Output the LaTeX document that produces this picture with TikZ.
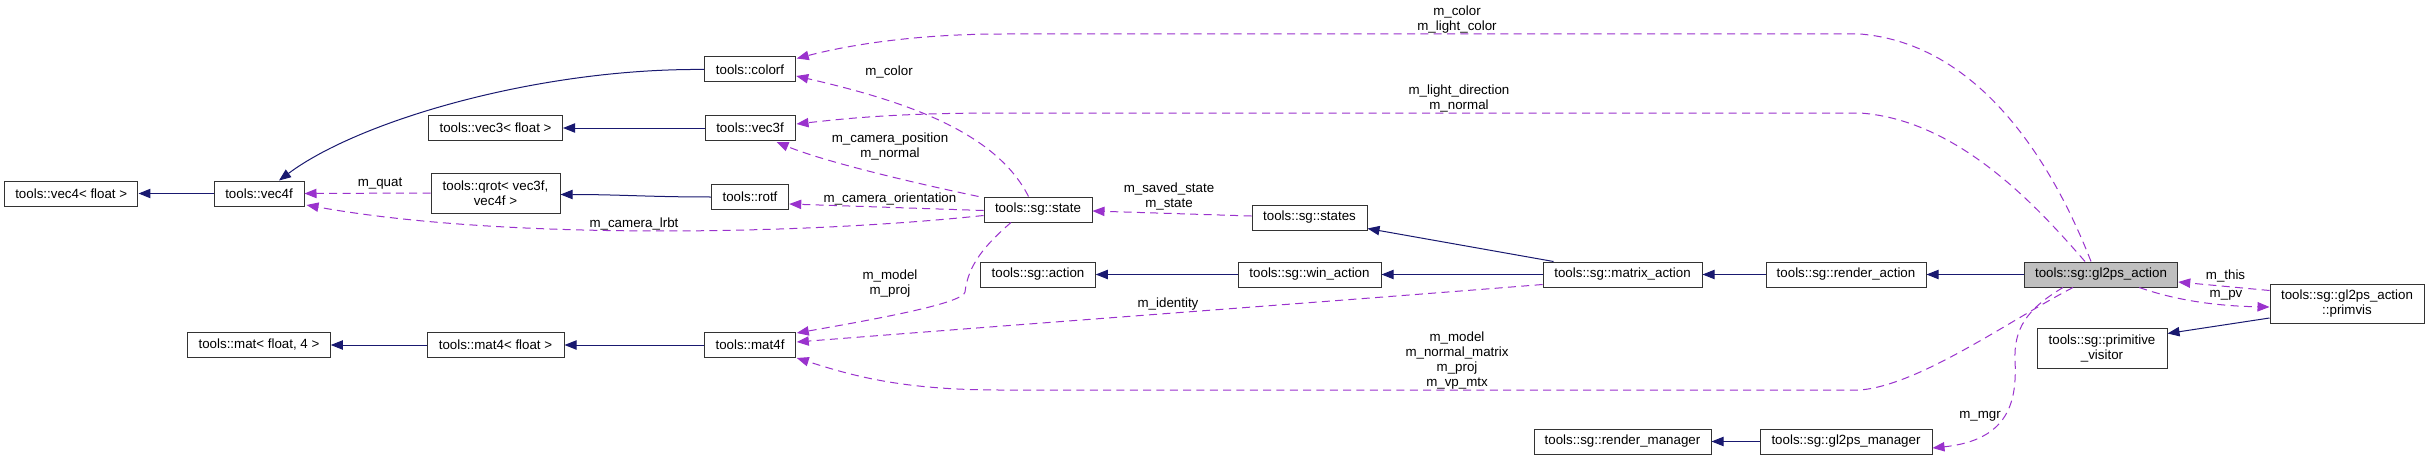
\documentclass[tikz,border=0pt]{standalone}
\usepackage{fontspec}
\setmainfont{Liberation Sans}
\usetikzlibrary{arrows.meta,calc}
\definecolor{navy}{HTML}{191970}
\definecolor{orchid}{HTML}{9A32CD}
\newcommand\fs{\fontsize{10}{11.25}\selectfont}
\begin{document}
\begin{tikzpicture}[x=0.75pt,y=-0.75pt,
  box/.style={draw=black!80, line width=0.75pt, fill=white, inner sep=0pt, align=center, font=\fs, minimum height=18.75pt},
  cur/.style={box, fill=black!25},
  inh/.style={draw=navy, line width=0.75pt, -{Triangle[length=9pt,width=7pt]}},
  use/.style={draw=orchid, line width=0.75pt, dash pattern=on 6pt off 4pt, -{Triangle[length=9pt,width=7pt]}},
  lbl/.style={font=\fs, align=center, inner sep=0pt}]
\fill[white] (0,0) rectangle (2429,460);
\useasboundingbox (0,0) rectangle (2429,460);

% nodes
\node[box, minimum width=100.1pt] (vec4F) at (71.25,193.5) {tools::vec4< float >};
\node[box, minimum width=67.5pt] (vec4f) at (259,193.5) {tools::vec4f};
\node[box, minimum width=100.5pt] (vec3F) at (495.5,128) {tools::vec3< float >};
\node[box, minimum width=96.75pt, minimum height=30pt] (qrot) at (495.5,193) {tools::qrot< vec3f,\\ vec4f >};
\node[box, minimum width=106.9pt] (mat) at (259,345) {tools::mat< float, 4 >};
\node[box, minimum width=102.75pt] (mat4F) at (495.5,345) {tools::mat4< float >};
\node[box, minimum width=67.9pt] (colorf) at (750,69.5) {tools::colorf};
\node[box, minimum width=67.5pt] (vec3f) at (750,128) {tools::vec3f};
\node[box, minimum width=58.1pt] (rotf) at (750,197) {tools::rotf};
\node[box, minimum width=67.9pt] (mat4f) at (750,345) {tools::mat4f};
\node[box, minimum width=81pt] (state) at (1038,209.5) {tools::sg::state};
\node[box, minimum width=85.9pt] (action) at (1038,274.5) {tools::sg::action};
\node[box, minimum width=86.25pt] (states) at (1309.5,217.5) {tools::sg::states};
\node[box, minimum width=107.25pt] (win) at (1309.5,274.5) {tools::sg::win\_action};
\node[box, minimum width=119.25pt] (matrix) at (1622.5,274.5) {tools::sg::matrix\_action};
\node[box, minimum width=120pt] (render) at (1846,274.5) {tools::sg::render\_action};
\node[cur, minimum width=115.1pt] (gl2ps) at (2101,274.5) {tools::sg::gl2ps\_action};
\node[box, minimum width=115.5pt, minimum height=29.25pt] (primvis) at (2347,303.5) {tools::sg::gl2ps\_action\\::primvis};
\node[box, minimum width=97.5pt, minimum height=30pt] (primv) at (2102,348) {tools::sg::primitive\\\_visitor};
\node[box, minimum width=132.75pt] (rmgr) at (1622.5,441.5) {tools::sg::render\_manager};
\node[box, minimum width=129pt] (gmgr) at (1846,441.5) {tools::sg::gl2ps\_manager};

% inheritance
\draw[inh] (vec4f.west) -- (vec4F.east);
\draw[inh] (colorf.west) .. controls (540,68) and (360,120) .. ($(vec4f.north)+(20,0)$);
\draw[inh] (vec3f.west) -- (vec3F.east);
\draw[inh] (rotf.west) .. controls (650,197) and (620,194.5) .. ($(qrot.east)+(0,1.5)$);
\draw[inh] (mat4F.west) -- (mat.east);
\draw[inh] (mat4f.west) -- (mat4F.east);
\draw[inh] (win.west) -- (action.east);
\draw[inh] (matrix.west) -- (win.east);
\draw[inh] ($(matrix.north west)+(11,0)$) -- ($(states.south east)+(0,-2)$);
\draw[inh] (render.west) -- (matrix.east);
\draw[inh] (gl2ps.west) -- (render.east);
\draw[inh] ($(primvis.west)+(0,14.5)$) -- ($(primv.north east)+(0,6)$);
\draw[inh] (gmgr.west) -- (rmgr.east);

% usage
\draw[use] (qrot.west) -- (vec4f.east);
\draw[use] ($(state.west)+(0,6)$) .. controls (800,235) and (500,240) .. ($(vec4f.east)+(2,11.5)$);
\draw[use] ($(state.west)+(0,1)$) -- ($(rotf.east)+(0,7)$);
\draw[use] ($(state.north west)+(-5,0)$) .. controls (900,180) and (820,160) .. ($(vec3f.south east)+(-19,1)$);
\draw[use] ($(state.north)+(-9.5,0)$) .. controls (995,130) and (900,100) .. ($(colorf.east)+(0.5,6.5)$);
\draw[use] ($(state.south)+(-27,0)$) .. controls (985,245) and (968,265) .. (965,292) .. controls (963,302) and (900,315) .. ($(mat4f.north east)+(1,1)$);
\draw[use] ($(matrix.south west)+(0,-3)$) .. controls (1350,300) and (1050,322) .. ($(mat4f.east)+(1,-3)$);
\draw[use] ($(states.west)+(0,-1.5)$) -- ($(state.east)+(0,1.5)$);
\draw[use] ($(gl2ps.north)+(-10,0)$) .. controls (2065,195) and (1995,45) .. (1860,34) -- (1002,34) .. controls (930,34) and (860,42) .. ($(colorf.north east)+(1,2)$);
\draw[use] ($(gl2ps.north)+(-16,0)$) .. controls (2040,210) and (1960,120) .. (1860,113) -- (1000,113) .. controls (900,113) and (850,118) .. ($(vec3f.east)+(1,-4)$);
\draw[use] ($(gl2ps.south)+(-28,0)$) .. controls (2010,320) and (1920,385) .. (1860,390) -- (1000,390) .. controls (900,390) and (850,375) .. ($(mat4f.south east)+(1,0)$);
\draw[use] ($(gl2ps.south)+(-38,0)$) .. controls (2025,310) and (2014,330) .. (2015,360) .. controls (2017,400) and (2010,440) .. ($(gmgr.east)+(0,6.5)$);
\draw[use] ($(primvis.north west)+(0,7)$) -- ($(gl2ps.east)+(0,7.5)$);
\draw[use] ($(gl2ps.south east)+(-39,0)$) .. controls (2175,300) and (2215,306) .. ($(primvis.west)+(0,3.5)$);

% labels
\node[lbl] (lquat) at (380,184) {m\_quat};
\node[lbl] (llrbt) at (634,224) {m\_camera\_lrbt};
\node[lbl] (lorient) at (890,199) {m\_camera\_orientation};
\node[lbl] (lpos) at (890,146) {m\_camera\_position\\m\_normal};
\node[lbl] (lcolor) at (889,72) {m\_color};
\node[lbl] (lmodel) at (890,284) {m\_model\\m\_proj};
\node[lbl] (lident) at (1168,304) {m\_identity};
\node[lbl] (lsaved) at (1169,196) {m\_saved\_state\\m\_state};
\node[lbl] (lcol2) at (1457,19.5) {m\_color\\m\_light\_color};
\node[lbl] (ldir) at (1459,98) {m\_light\_direction\\m\_normal};
\node[lbl] (lmat) at (1457,360.5) {m\_model\\m\_normal\_matrix\\m\_proj\\m\_vp\_mtx};
\node[lbl] (lmgr) at (1980,416) {m\_mgr};
\node[lbl] (lthis) at (2225.5,276) {m\_this};
\node[lbl] (lpv) at (2226,295) {m\_pv};
\end{tikzpicture}
\end{document}
